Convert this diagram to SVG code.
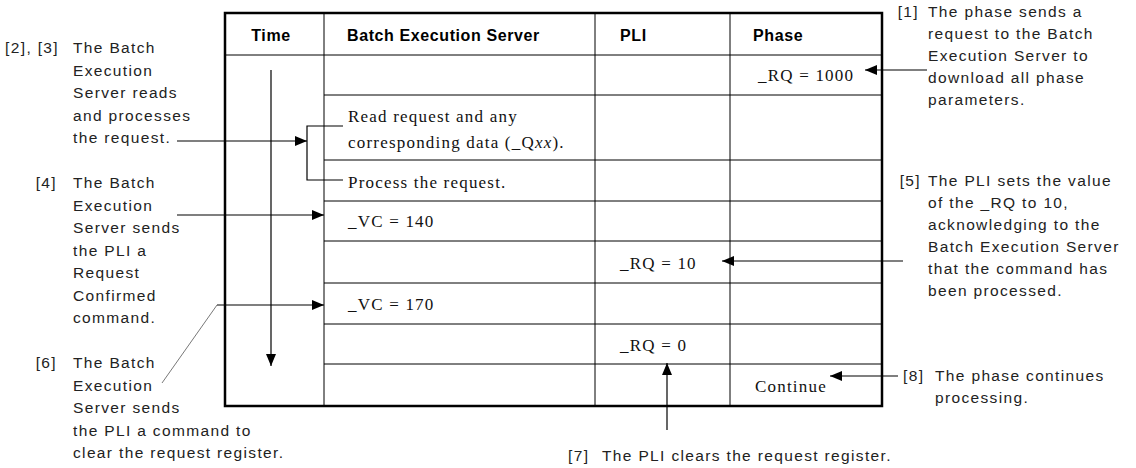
<svg xmlns="http://www.w3.org/2000/svg" width="1136" height="468" viewBox="0 0 1136 468">
<defs>
<style>
.lbl{font-family:"Liberation Sans",Arial,sans-serif;font-size:15.5px;letter-spacing:1.35px;fill:#222}
.hdr{font-family:"Liberation Sans",Arial,sans-serif;font-size:16px;font-weight:bold;letter-spacing:0.6px;fill:#000}
.cell{font-family:"Liberation Serif","Times New Roman",serif;font-size:17px;letter-spacing:1.2px;fill:#111}
.grid{stroke:#000;stroke-width:1;fill:none}
.conn{stroke:#000;stroke-width:1.2;fill:none}
</style>
<marker id="ah" viewBox="0 0 12 10" refX="12" refY="5" markerWidth="12" markerHeight="10" markerUnits="userSpaceOnUse" orient="auto">
<path d="M0,0 L12,5 L0,10 z" fill="#000"/>
</marker>
</defs>
<rect width="1136" height="468" fill="#fff"/>
<g id="table">
<line class="grid" x1="225" y1="55" x2="882" y2="55"/>
<line class="grid" x1="324" y1="95" x2="882" y2="95"/>
<line class="grid" x1="324" y1="160" x2="882" y2="160"/>
<line class="grid" x1="324" y1="201" x2="882" y2="201"/>
<line class="grid" x1="324" y1="241" x2="882" y2="241"/>
<line class="grid" x1="324" y1="283" x2="882" y2="283"/>
<line class="grid" x1="324" y1="324" x2="882" y2="324"/>
<line class="grid" x1="324" y1="364" x2="882" y2="364"/>
<line class="grid" x1="324" y1="13" x2="324" y2="406" stroke="#444" stroke-width="1.5"/>
<line class="grid" x1="595" y1="13" x2="595" y2="406"/>
<line class="grid" x1="730" y1="13" x2="730" y2="406"/>
<rect x="225" y="13" width="657" height="393" fill="none" stroke="#000" stroke-width="2.5"/>
<text class="hdr" x="271" y="41" text-anchor="middle">Time</text>
<text class="hdr" x="347" y="41">Batch Execution Server</text>
<text class="hdr" x="620" y="41">PLI</text>
<text class="hdr" x="753" y="41">Phase</text>
</g>
<g id="cells">
<text class="cell" x="758" y="81">_RQ = 1000</text>
<text class="cell" x="348" y="122">Read request and any</text>
<text class="cell" x="348" y="148">corresponding data (_Q<tspan font-style="italic">xx</tspan>).</text>
<text class="cell" x="348" y="188">Process the request.</text>
<text class="cell" x="348" y="227">_VC = 140</text>
<text class="cell" x="620" y="269">_RQ = 10</text>
<text class="cell" x="348" y="310">_VC = 170</text>
<text class="cell" x="620" y="351">_RQ = 0</text>
<text class="cell" x="755" y="392">Continue</text>
</g>
<g id="connectors">
<line class="conn" x1="271" y1="70" x2="271" y2="366" marker-end="url(#ah)"/>
<path class="conn" d="M343,126 H307 V180 H343"/>
<line class="conn" x1="177" y1="141" x2="307" y2="141" marker-end="url(#ah)"/>
<line class="conn" x1="177" y1="215" x2="324" y2="215" marker-end="url(#ah)"/>
<line class="conn" x1="217" y1="305" x2="324" y2="305" marker-end="url(#ah)"/>
<line x1="217" y1="305" x2="162" y2="383" stroke="#555" stroke-width="0.8"/>
<line class="conn" x1="927" y1="70" x2="865" y2="70" marker-end="url(#ah)"/>
<line class="conn" x1="903" y1="261" x2="722" y2="261" marker-end="url(#ah)"/>
<line class="conn" x1="898" y1="376" x2="830" y2="376" marker-end="url(#ah)"/>
<line class="conn" x1="667" y1="430" x2="667" y2="363" marker-end="url(#ah)"/>
</g>
<g id="note1">
<text class="lbl" x="919" y="17" text-anchor="end">[1]</text>
<text class="lbl" x="928" y="17">The phase sends a</text>
<text class="lbl" x="928" y="39">request to the Batch</text>
<text class="lbl" x="928" y="61">Execution Server to</text>
<text class="lbl" x="928" y="83">download all phase</text>
<text class="lbl" x="928" y="105">parameters.</text>
</g>
<g id="note23">
<text class="lbl" x="59" y="53" text-anchor="end">[2], [3]</text>
<text class="lbl" x="73" y="53">The Batch</text>
<text class="lbl" x="73" y="75.5">Execution</text>
<text class="lbl" x="73" y="98">Server reads</text>
<text class="lbl" x="73" y="120.5">and processes</text>
<text class="lbl" x="73" y="143">the request.</text>
</g>
<g id="note4">
<text class="lbl" x="57" y="188" text-anchor="end">[4]</text>
<text class="lbl" x="73" y="188">The Batch</text>
<text class="lbl" x="73" y="210.5">Execution</text>
<text class="lbl" x="73" y="233">Server sends</text>
<text class="lbl" x="73" y="255.5">the PLI a</text>
<text class="lbl" x="73" y="278">Request</text>
<text class="lbl" x="73" y="300.5">Confirmed</text>
<text class="lbl" x="73" y="323">command.</text>
</g>
<g id="note5">
<text class="lbl" x="921" y="186" text-anchor="end">[5]</text>
<text class="lbl" x="928" y="186">The PLI sets the value</text>
<text class="lbl" x="928" y="208">of the _RQ to 10,</text>
<text class="lbl" x="928" y="230">acknowledging to the</text>
<text class="lbl" x="928" y="252">Batch Execution Server</text>
<text class="lbl" x="928" y="274">that the command has</text>
<text class="lbl" x="928" y="296">been processed.</text>
</g>
<g id="note6">
<text class="lbl" x="57" y="368" text-anchor="end">[6]</text>
<text class="lbl" x="73" y="368">The Batch</text>
<text class="lbl" x="73" y="390.5">Execution</text>
<text class="lbl" x="73" y="413">Server sends</text>
<text class="lbl" x="73" y="435.5">the PLI a command to</text>
<text class="lbl" x="73" y="458">clear the request register.</text>
</g>
<g id="note7">
<text class="lbl" x="568" y="461">[7]</text>
<text class="lbl" x="602" y="461">The PLI clears the request register.</text>
</g>
<g id="note8">
<text class="lbl" x="903" y="381">[8]</text>
<text class="lbl" x="935" y="381">The phase continues</text>
<text class="lbl" x="935" y="403">processing.</text>
</g>
</svg>
